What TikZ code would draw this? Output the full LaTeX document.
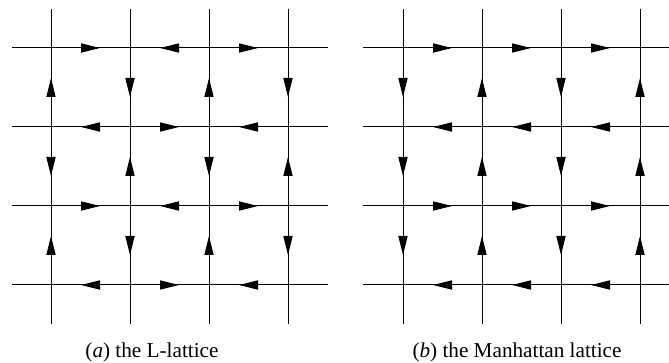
\documentclass[tikz,border=0pt]{standalone}
\usepackage{fontspec}
\setmainfont{Liberation Serif}
\usetikzlibrary{arrows.meta,decorations.markings}

\tikzset{
  lat/.style={line width=0.5pt},
  flow/.style={lat,postaction={decorate},
    decoration={markings,mark=at position 0.5 with
      {\arrow[xshift=4.75pt]{Triangle[length=9.5pt,width=4.6pt]}}}},
  captext/.style={anchor=base,font=\fontsize{10.6}{12}\selectfont},
}

\begin{document}
\begin{tikzpicture}[x=0.5pt,y=-0.5pt]
  \useasboundingbox (0,0) rectangle (669,363);

  % lattice points and line ends
  \foreach \i/\x in {1/51,2/130,3/209,4/288} {
    \coordinate (Ln\i) at (\x,9);
    \coordinate (Ls\i) at (\x,324);
    \coordinate (Mn\i) at (\x+352,9);
    \coordinate (Ms\i) at (\x+352,324);
    \foreach \j/\y in {1/48,2/127,3/206,4/285} {
      \coordinate (L\i\j) at (\x,\y);
      \coordinate (M\i\j) at (\x+352,\y);
    }
  }
  \foreach \j/\y in {1/48,2/127,3/206,4/285} {
    \coordinate (Lw\j) at (12,\y);
    \coordinate (Le\j) at (328,\y);
    \coordinate (Mw\j) at (363,\y);
    \coordinate (Me\j) at (669,\y);
  }

  % the lines
  \foreach \k in {1,...,4} {
    \draw[lat] (Lw\k) -- (Le\k);
    \draw[lat] (Ln\k) -- (Ls\k);
    \draw[lat] (Mw\k) -- (Me\k);
    \draw[lat] (Mn\k) -- (Ms\k);
  }

  % (a) L-lattice
  \foreach \a/\b in {L11/L21,L31/L21,L31/L41, L22/L12,L22/L32,L42/L32,
                     L13/L23,L33/L23,L33/L43, L24/L14,L24/L34,L44/L34,
                     L12/L11,L12/L13,L14/L13, L21/L22,L23/L22,L23/L24,
                     L32/L31,L32/L33,L34/L33, L41/L42,L43/L42,L43/L44}
    \draw[flow] (\a) -- (\b);

  % (b) Manhattan lattice
  \foreach \a/\b in {M11/M21,M21/M31,M31/M41, M22/M12,M32/M22,M42/M32,
                     M13/M23,M23/M33,M33/M43, M24/M14,M34/M24,M44/M34,
                     M11/M12,M12/M13,M13/M14, M22/M21,M23/M22,M24/M23,
                     M31/M32,M32/M33,M33/M34, M42/M41,M43/M42,M44/M43}
    \draw[flow] (\a) -- (\b);

  \node[captext] (capa) at (152,357) {(\textit{a}) the L-lattice};
  \node[captext] (capb) at (517,357) {(\textit{b}) the Manhattan lattice};
\end{tikzpicture}
\end{document}
